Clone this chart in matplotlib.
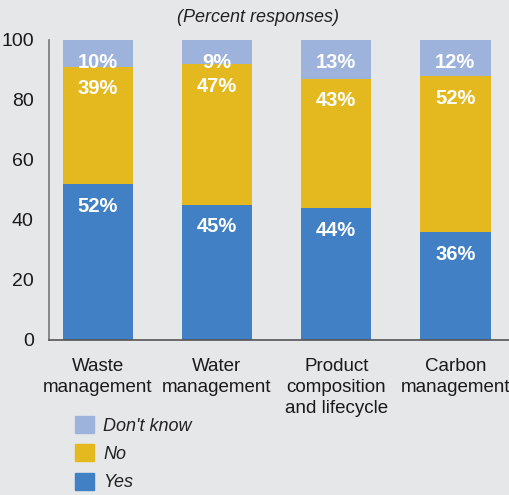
import matplotlib
matplotlib.use("Agg")
from matplotlib import pyplot as plt
from matplotlib.patches import Patch
import numpy as np

plt.rcParams['font.family'] = ['Liberation Sans Narrow', 'Liberation Sans', 'DejaVu Sans']

categories = ["Waste\nmanagement", "Water\nmanagement", "Product\ncomposition\nand lifecycle", "Carbon\nmanagement"]
yes = [52, 45, 44, 36]
no = [39, 47, 43, 52]
dont_know = [10, 9, 13, 12]

bg = "#e6e7e9"
c_yes = "#4180c4"
c_no = "#e4b920"
c_dk = "#9db3dc"

fig = plt.figure(figsize=(5.09, 4.95), dpi=100, facecolor=bg)
ax = fig.add_axes([49/509, 1 - 340/495, 1 - 49/509, 300/495], facecolor=bg)

x = np.arange(len(categories))
w = 0.59
bottom = np.zeros(len(categories))
for vals, col in [(yes, c_yes), (no, c_no), (dont_know, c_dk)]:
	vals = np.array(vals, dtype=float)
	ax.bar(x, vals, w, bottom=bottom, color=col, zorder=2)
	top = np.minimum(bottom + vals, 100)
	for xi, ti, v in zip(x, top, vals):
		ax.annotate(f"{int(v)}%", (xi, ti), xytext=(0, -22), textcoords="offset pixels",
			ha="center", va="center", color="white", fontsize=14.5, fontweight="bold")
	bottom += vals

ax.set_ylim(0, 100)
ax.set_xlim(-0.41, 3.45)
ax.set_yticks(range(0, 101, 20))
ax.set_xticks(x)
ax.set_xticklabels(categories, fontsize=13.5, linespacing=1.3, va="top", color="#1a1a1a")
ax.tick_params(axis="y", length=0, labelsize=14, pad=11, labelcolor="#1a1a1a")
ax.tick_params(axis="x", length=0, pad=13)
for s in ["top", "right"]:
	ax.spines[s].set_visible(False)
ax.spines["left"].set_color("#777777")
ax.spines["left"].set_linewidth(1.2)
ax.spines["bottom"].set_color("#555555")
ax.spines["bottom"].set_linewidth(1.2)

fig.text(258/509, 1 - 17/495, "(Percent responses)", ha="center", va="center",
	fontsize=13, style="italic", color="#222222")

handles = [Patch(color=c_dk, label="Don't know"), Patch(color=c_no, label="No"), Patch(color=c_yes, label="Yes")]
leg = fig.legend(handles=handles, loc="upper left", bbox_to_anchor=(75/509, 1 - 416/495),
	frameon=False, prop={"size": 13, "style": "italic"}, handlelength=1.05, handleheight=1.05,
	labelspacing=0.55, handletextpad=0.5, borderpad=0, borderaxespad=0)
for t in leg.get_texts():
	t.set_color("#222222")

fig.savefig("out.png", dpi=100, facecolor=bg)
